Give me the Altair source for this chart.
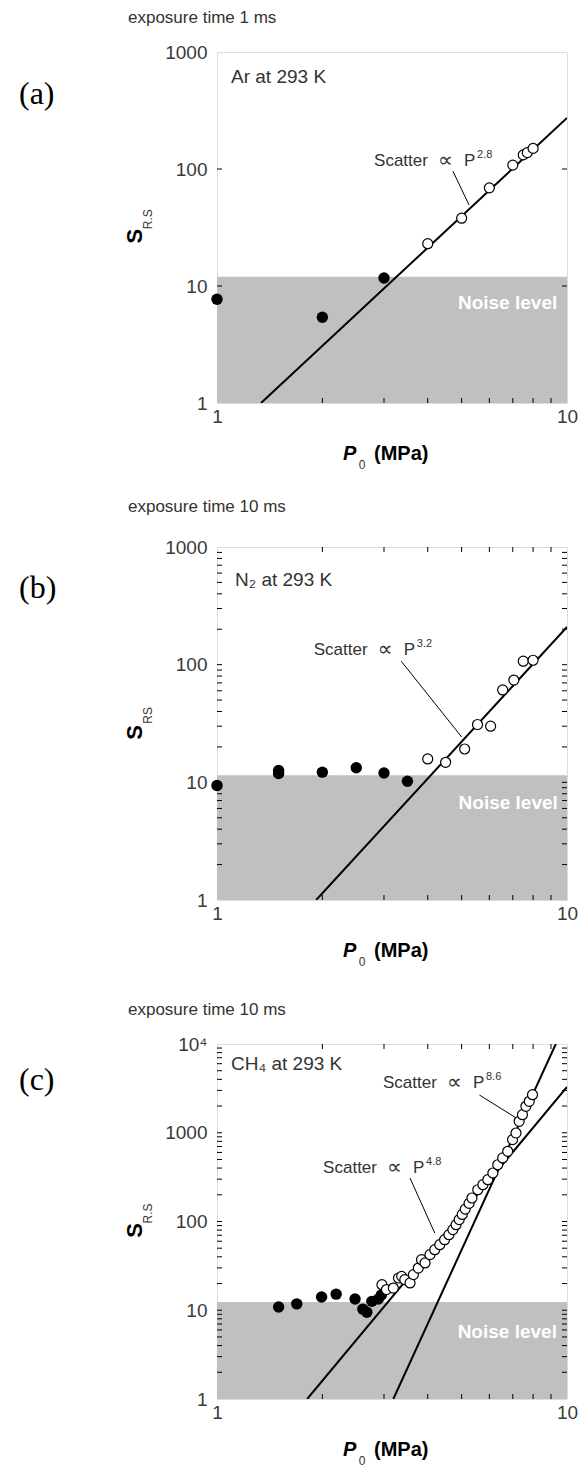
import altair as alt
import pandas as pd

# ---------------- data ----------------
a_filled_p = [1.0, 2.0, 3.0]
a_filled_s = [7.7, 5.4, 11.7]
a_open_p = [4.0, 5.0, 6.0, 7.0, 7.5, 7.7, 8.0]
a_open_s = [23, 38, 69, 108, 132, 138, 150]
a_fit_p = [1.336, 10.0]
a_fit_s = [1.0, 273.0]

b_filled_p = [1.0, 1.5, 1.5, 2.0, 2.5, 3.0, 3.5]
b_filled_s = [9.4, 12.6, 11.9, 12.2, 13.3, 12.0, 10.2]
b_open_p = [4.0, 4.5, 5.1, 5.55, 6.05, 6.55, 7.05, 7.5, 8.0]
b_open_s = [15.8, 14.8, 19.2, 31, 30, 61, 74, 107, 109]
b_fit_p = [1.92, 10.0]
b_fit_s = [1.0, 209.0]

c_filled_p = [1.50, 1.69, 1.99, 2.19, 2.48, 2.61, 2.68, 2.77, 2.89, 2.95]
c_filled_s = [10.9, 11.8, 14.1, 15.2, 13.4, 10.3, 9.5, 12.6, 13.4, 14.9]
c_open_p = [2.96, 3.05, 3.19, 3.30, 3.37, 3.44, 3.56, 3.64, 3.76, 3.84, 3.93,
            4.06, 4.19, 4.33, 4.47, 4.60, 4.72, 4.82, 4.92, 5.02, 5.12, 5.25,
            5.35, 5.56, 5.75, 5.94, 6.14, 6.34, 6.55, 6.77, 6.99, 7.15, 7.30,
            7.46, 7.63, 7.80, 7.97]
c_open_s = [19.4, 17.1, 17.8, 23.1, 24.1, 22.1, 20.3, 25.2, 29.9, 37.1, 34.1,
            42.3, 48.1, 54.8, 62.4, 71, 81, 92, 105, 120, 138, 160,
            184, 228, 260, 296, 352, 436, 520, 618, 836, 993, 1345,
            1597, 1986, 2261, 2683]
c_fit48_p = [1.81, 10.0]
c_fit48_s = [1.0, 3276.0]
c_fit86_p = [3.19, 9.29]
c_fit86_s = [1.0, 10000.0]

noise_levels = [12.0, 11.5, 12.4]
x_ticks = [1, 10]
minor_x = [2, 3, 4, 5, 6, 7, 8, 9]
y_ticks_3 = [1, 10, 100, 1000]
y_ticks_4 = [1, 10, 100, 1000, 10000]
minor_y_3 = [m * 10 ** d for d in range(0, 3) for m in range(2, 10)] + [10, 100]
minor_y_4 = [m * 10 ** d for d in range(0, 4) for m in range(2, 10)] + [10, 100, 1000]

FONT = "Liberation Sans"
SERIF = "Liberation Serif"
W = 350
LBL = "#3a3a3a"
TICK = 5
TICK_COLOR = "black"


def xy(p, s):
    return pd.DataFrame({"p": p, "s": s})


def panel(letter, letter_y, exposure, exposure_y, gas, gas_xy, H, ydom, yvals,
          sub, filled, opened, fits, leaders, notes, noise, noise_pos,
          noise_clip, minor_y, top_ticks):
    xs = alt.Scale(type="log", domain=[1, 10], nice=False)
    ys = alt.Scale(type="log", domain=ydom, nice=False)
    xaxis = alt.Axis(values=x_ticks, labelExpr="format(datum.value, 'd')",
                     title=None, labelFontSize=19, labelColor=LBL, grid=False,
                     ticks=False, domain=False,
                     labelFont=FONT, labelPadding=4, labelFlush=False)
    yaxis = alt.Axis(values=yvals,
                     labelExpr="datum.value >= 10000 ? '10\u2074' : format(datum.value, 'd')",
                     title=None, labelFontSize=19, labelColor=LBL, grid=False,
                     ticks=False, domain=False,
                     labelFont=FONT, labelPadding=10)
    X = alt.X("p:Q", scale=xs, axis=xaxis)
    Y = alt.Y("s:Q", scale=ys, axis=yaxis)

    ndec = len(yvals) - 1
    fy = 10 ** (TICK / (H / ndec))
    fx = 10 ** (TICK / W)

    # all inner tick segments in one table
    seg_p, seg_s, seg_p2, seg_s2 = [], [], [], []
    for v in minor_x:
        seg_p += [v]; seg_p2 += [v]; seg_s += [ydom[0]]; seg_s2 += [ydom[0] * fy]
        if top_ticks:
            seg_p += [v]; seg_p2 += [v]; seg_s += [ydom[1]]; seg_s2 += [ydom[1] / fy]
    for v in minor_y:
        seg_p += [1.0]; seg_p2 += [fx]; seg_s += [v]; seg_s2 += [v]
        seg_p += [10.0]; seg_p2 += [10.0 / fx]; seg_s += [v]; seg_s2 += [v]
    segs = pd.DataFrame({"p": seg_p, "s": seg_s, "p2": seg_p2, "s2": seg_s2})

    layers = []
    nd = pd.DataFrame({"p": [1.0], "p2": [10.0], "s": [ydom[0]], "s2": [noise]})
    layers.append(alt.Chart(nd).mark_rect(color="#c0c0c0").encode(
        x=X, x2="p2:Q", y=Y, y2="s2:Q"))
    for (fp, fs) in fits:
        layers.append(alt.Chart(xy(fp, fs)).mark_line(
            color="black", strokeWidth=2, clip=True).encode(x=X, y=Y))
    for (p1, s1, p2, s2) in leaders:
        ld = pd.DataFrame({"p": [p1], "s": [s1], "p2": [p2], "s2": [s2]})
        layers.append(alt.Chart(ld).mark_rule(color="black", strokeWidth=1).encode(
            x=X, y=Y, x2="p2:Q", y2="s2:Q"))
    layers.append(alt.Chart(segs).mark_rule(color=TICK_COLOR, strokeWidth=1).encode(
        x=X, y=Y, x2="p2:Q", y2="s2:Q"))
    layers.append(alt.Chart(xy(*filled)).mark_point(
        shape="circle", filled=True, color="black", size=130, opacity=1).encode(x=X, y=Y))
    layers.append(alt.Chart(xy(*opened)).mark_point(
        shape="circle", filled=True, fill="white", stroke="black", strokeWidth=1.2,
        size=100, opacity=1).encode(x=X, y=Y))
    for (p, s, expo) in notes:
        d = pd.DataFrame({"p": [p], "s": [s]})
        base = alt.Chart(d)
        layers.append(base.mark_text(
            text="Scatter", align="left", baseline="middle",
            font=FONT, fontSize=17, color="#333333").encode(x=X, y=Y))
        layers.append(base.mark_text(
            text="\u221d", align="left", baseline="middle", dx=64,
            font="DejaVu Sans", fontSize=21, color="#333333").encode(x=X, y=Y))
        layers.append(base.mark_text(
            text="P", align="left", baseline="middle", dx=90,
            font=FONT, fontSize=17, color="#333333").encode(x=X, y=Y))
        layers.append(base.mark_text(
            text=expo, align="left", baseline="middle", dx=103, dy=-6,
            font=FONT, fontSize=11, color="#333333").encode(x=X, y=Y))
    d = pd.DataFrame({"p": [noise_pos[0]], "s": [noise_pos[1]]})
    layers.append(alt.Chart(d).mark_text(
        text="Noise level", align="left", baseline="middle", font=FONT,
        fontSize=19, fontWeight="bold", color="white", clip=noise_clip).encode(x=X, y=Y))

    def t(text, x, y, **kw):
        return alt.Chart(pd.DataFrame({"a": [0]})).mark_text(
            text=text, **kw).encode(x=alt.value(x), y=alt.value(y))

    layers.append(t("x", -89, -40, align="left", baseline="middle",
                    font=FONT, fontSize=17, opacity=0))
    layers.append(t(letter, -198, letter_y, align="left", baseline="middle",
                    font=SERIF, fontSize=32, color="black"))
    layers.append(t(exposure, -89, exposure_y, align="left", baseline="middle",
                    font=FONT, fontSize=17, color="#333333"))
    layers.append(t(gas, gas_xy[0], gas_xy[1], align="left", baseline="middle",
                    font=FONT, fontSize=19, color="#333333"))
    layers.append(t("S", -82, 0.525 * H, align="center", baseline="middle",
                    angle=270, font=FONT, fontSize=22, fontWeight="bold", color="black"))
    layers.append(t(sub, -69, 0.525 * H - 17, align="center", baseline="middle",
                    angle=270, font=FONT, fontSize=12, color="#333333"))
    layers.append(t("P", 126, H + 51, align="left", baseline="middle", font=FONT,
                    fontSize=20, fontWeight="bold", fontStyle="italic", color="black"))
    layers.append(t("0", 145, H + 62, align="center", baseline="middle", font=FONT,
                    fontSize=12, color="#333333"))
    layers.append(t("(MPa)", 157, H + 51, align="left", baseline="middle", font=FONT,
                    fontSize=20, fontWeight="bold", color="black"))

    return alt.layer(*layers).properties(width=W, height=H)


pa = panel("(a)", 42, "exposure time 1 ms", -34, "Ar at 293 K", (14, 25), 351,
           [1, 1000], y_ticks_3, "R.S",
           (a_filled_p, a_filled_s), (a_open_p, a_open_s),
           [(a_fit_p, a_fit_s)],
           [(4.72, 96, 5.25, 49.2)],
           [(2.81, 117, "2.8")],
           noise_levels[0], (4.88, 7.2), False, [10, 100], False)

pb = panel("(b)", 41, "exposure time 10 ms", -40, "N\u2082 at 293 K", (18, 33), 353,
           [1, 1000], y_ticks_3, "RS",
           (b_filled_p, b_filled_s), (b_open_p, b_open_s),
           [(b_fit_p, b_fit_s)],
           [(3.36, 107, 5.0, 24.3)],
           [(1.89, 133, "3.2")],
           noise_levels[1], (4.9, 6.7), False, minor_y_3, True)

pc = panel("(c)", 36, "exposure time 10 ms", -34, "CH\u2084 at 293 K", (14, 20), 355,
           [1, 10000], y_ticks_4, "R.S",
           (c_filled_p, c_filled_s), (c_open_p, c_open_s),
           [(c_fit48_p, c_fit48_s), (c_fit86_p, c_fit86_s)],
           [(5.62, 2663, 7.16, 1466), (3.56, 309, 4.19, 74)],
           [(2.98, 3630, "8.6"), (2.01, 401, "4.8")],
           noise_levels[2], (4.87, 5.7), True, minor_y_4, True)

chart = alt.vconcat(pa, pb, pc, spacing=25).properties(
    padding={"left": 18, "top": 2, "right": 0, "bottom": 0}
).configure_view(stroke="black", strokeWidth=1.5).configure_axis(
    grid=False, domain=False, ticks=False
).configure(background="white")

chart.save("out.html", embed_options={"renderer": "svg", "actions": False})
